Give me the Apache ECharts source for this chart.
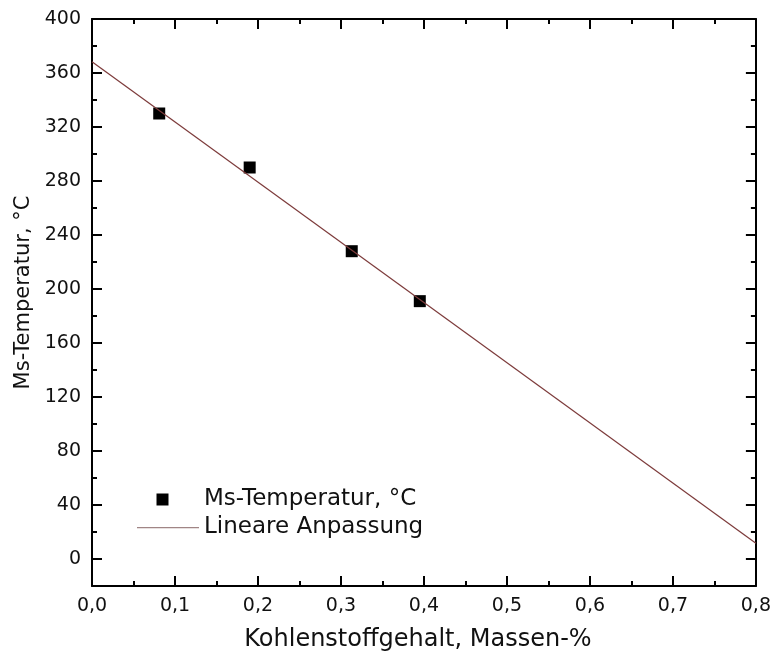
<!DOCTYPE html>
<html>
<head>
<meta charset="utf-8">
<script src="https://cdn.jsdelivr.net/npm/echarts@6/dist/echarts.min.js"></script>
<style>
  html, body { margin: 0; padding: 0; background: #fff; }
  #chart { width: 774px; height: 658px; }
</style>
</head>
<body>
<div id="chart"></div>
<script>
// Messpunkte
var carbonX = [0.081, 0.190, 0.313, 0.395];
var msTemp = [330, 290, 228, 191];
// lineare Anpassung (Endpunkte)
var fitX = [0, 0.8];
var fitY = [368.4, 11.6];
// Achsenbeschriftung
var yMajor = [0, 40, 80, 120, 160, 200, 240, 280, 320, 360, 400];
var yMinor = [20, 60, 100, 140, 180, 220, 260, 300, 340, 380];

var font = 'DejaVu Sans, sans-serif';
var black = '#000';

function zip(a, b) {
  var out = [];
  for (var i = 0; i < a.length; i++) out.push([a[i], b[i]]);
  return out;
}

function xAx(pos, showLabel) {
  return {
    type: 'value', position: pos, min: 0, max: 0.8, interval: 0.1,
    name: showLabel ? 'Kohlenstoffgehalt, Massen-%' : '',
    nameLocation: 'middle', nameGap: 42,
    nameTextStyle: { fontFamily: font, fontSize: 24, color: '#111', padding: [0, 12, 0, 0] },
    axisLine: { show: true, onZero: false, lineStyle: { color: black, width: 2 } },
    axisTick: { show: true, inside: true, length: 10, lineStyle: { color: black, width: 2 } },
    minorTick: { show: true, splitNumber: 2, length: 5, lineStyle: { color: black, width: 2 } },
    axisLabel: {
      show: showLabel, margin: 11, fontFamily: font, fontSize: 19, color: '#111',
      formatter: function (v) { return v.toFixed(1).replace('.', ','); }
    },
    splitLine: { show: false }
  };
}

function yAx(pos, showLabel, vals, len, line) {
  return {
    type: 'value', position: pos, min: -20, max: 400,
    name: showLabel ? 'Ms-Temperatur, °C' : '',
    nameLocation: 'middle', nameGap: 58,
    nameTextStyle: { fontFamily: font, fontSize: 21, color: '#111', padding: [0, 0, 0, 20] },
    axisLine: { show: line, onZero: false, lineStyle: { color: black, width: 2 } },
    axisTick: { show: true, inside: true, length: len, customValues: vals, lineStyle: { color: black, width: 2 } },
    axisLabel: { show: showLabel, customValues: vals, margin: 11, fontFamily: font, fontSize: 19, color: '#111' },
    splitLine: { show: false }
  };
}

var chart = echarts.init(document.getElementById('chart'));
chart.setOption({
  animation: false,
  backgroundColor: '#fff',
  grid: { left: 92, top: 19, right: 17, bottom: 72 },
  legend: {
    orient: 'vertical', left: 132, top: 483,
    itemWidth: 62, itemHeight: 12, itemGap: 5,
    textStyle: { fontFamily: font, fontSize: 23, color: '#111' },
    data: [
      { name: 'Ms-Temperatur, °C', icon: 'path://M0,0M62,12M19.5,0h12v12h-12Z' },
      { name: 'Lineare Anpassung', icon: 'path://M0,0M62,12M0,5.5h62v1.2h-62Z' }
    ]
  },
  xAxis: [xAx('bottom', true), xAx('top', false)],
  yAxis: [
    yAx('left', true, yMajor, 10, true),
    yAx('left', false, yMinor, 5, false),
    yAx('right', false, yMajor, 10, true),
    yAx('right', false, yMinor, 5, false)
  ],
  series: [
    {
      name: 'Lineare Anpassung', type: 'line',
      data: zip(fitX, fitY),
      symbol: 'none',
      lineStyle: { color: '#7d3b3b', width: 1.2 },
      itemStyle: { color: '#a08585' },
      z: 3
    },
    {
      name: 'Ms-Temperatur, °C', type: 'scatter',
      data: zip(carbonX, msTemp),
      symbol: 'rect', symbolSize: 12,
      itemStyle: { color: '#000', opacity: 1 },
      z: 2
    }
  ]
});
</script>
</body>
</html>
